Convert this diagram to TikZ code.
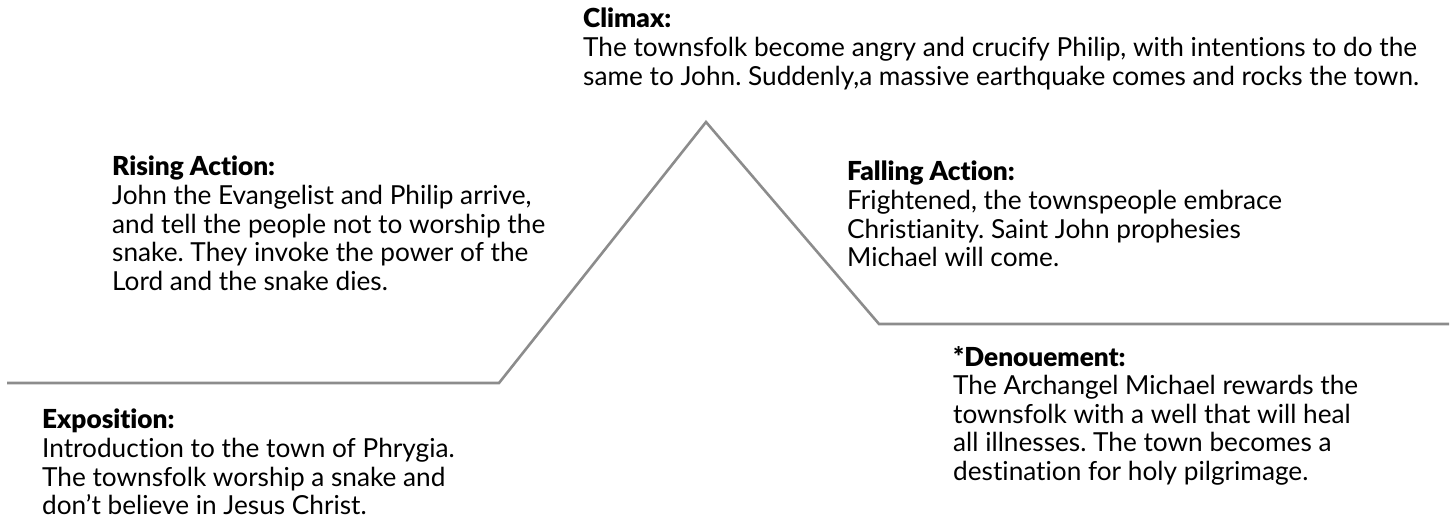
\documentclass[tikz,border=0pt]{standalone}
\usepackage{fontspec}
\setmainfont{Lato}[BoldFont={Lato Black}, RawFeature={-liga}]
\definecolor{plotgray}{HTML}{8C8C8C}
\tikzset{
  blocktext/.style={anchor=north west, inner sep=0pt, align=left,
    font=\fontsize{26.2}{28.6}\selectfont\frenchspacing, text=black},
  plotline/.style={draw=plotgray, line width=2.6pt, line join=miter}
}
\begin{document}
\begin{tikzpicture}[x=1pt,y=-1pt]
\useasboundingbox (0,0) rectangle (1453,531);
\coordinate (p0) at (7,383);
\coordinate (p1) at (499,383);
\coordinate (p2) at (706,122);
\coordinate (p3) at (879,324);
\coordinate (p4) at (1449,324);
\draw[plotline] (p0) -- (p1) -- (p2) -- (p3) -- (p4);

\node[blocktext] (climax) at (583,8) {\textbf{Climax:}\\
The townsfolk become angry and crucify Philip, with intentions to do the\\
same to John. Suddenly,a massive earthquake comes and rocks the town.};

\node[blocktext] (rising) at (112,156) {\textbf{Rising Action:}\\
John the Evangelist and Philip arrive,\\
and tell the people not to worship the\\
snake. They invoke the power of the\\
Lord and the snake dies.};

\node[blocktext] (falling) at (847,161) {\textbf{Falling Action:}\\
Frightened, the townspeople embrace\\
Christianity. Saint John prophesies\\
Michael will come.};

\node[blocktext] (denouement) at (953,346) {\textbf{*Denouement:}\\
The Archangel Michael rewards the\\
townsfolk with a well that will heal\\
all illnesses. The town becomes a\\
destination for holy pilgrimage.};

\node[blocktext] (exposition) at (42,409) {\textbf{Exposition:}\\
Introduction to the town of Phrygia.\\
The townsfolk worship a snake and\\
don’t believe in Jesus Christ.};
\end{tikzpicture}
\end{document}
